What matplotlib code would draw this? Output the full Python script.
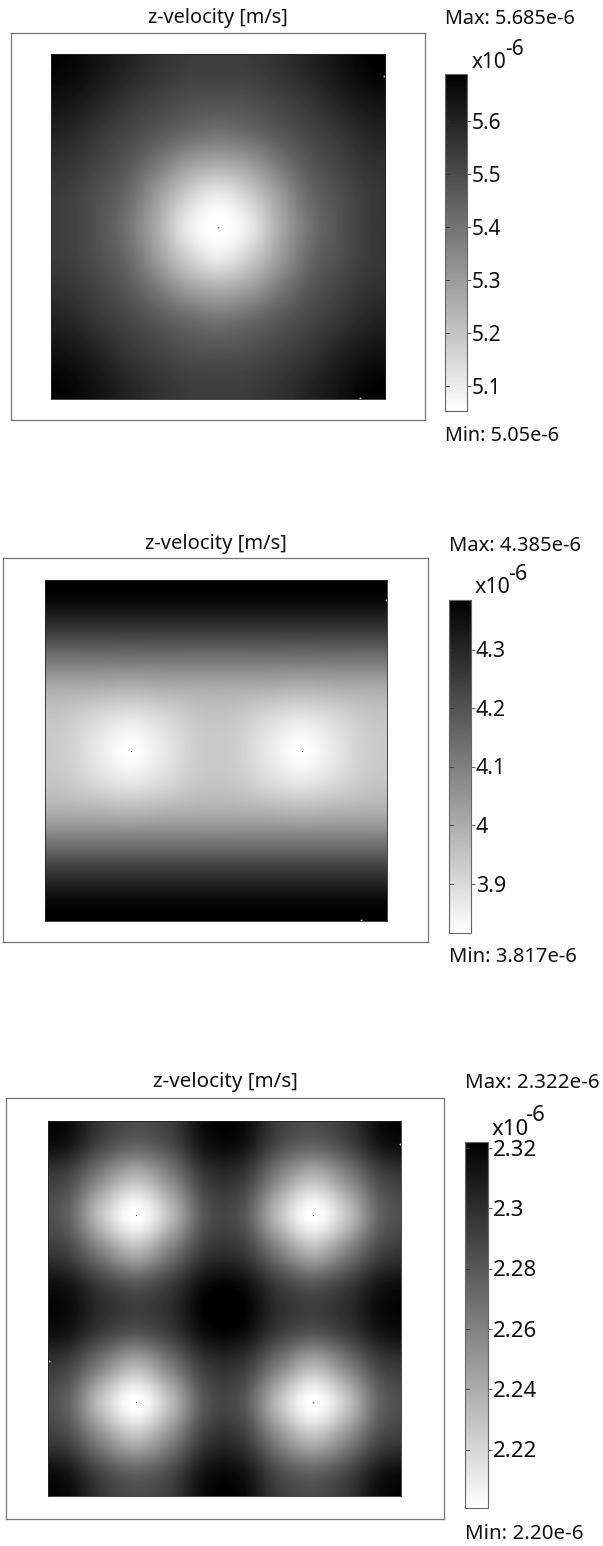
import matplotlib
matplotlib.use("Agg")
import matplotlib.pyplot as plt
from matplotlib.cm import ScalarMappable
from matplotlib.colors import Normalize

plt.rcParams['font.family'] = ['Noto Sans', 'DejaVu Sans']
W, H = 603, 1546

title = "z-velocity [m/s]"

field_1 = [
    [5.675, 5.640, 5.598, 5.561, 5.536, 5.531, 5.536, 5.561, 5.598, 5.640, 5.680],
    [5.640, 5.605, 5.555, 5.523, 5.493, 5.486, 5.493, 5.523, 5.555, 5.605, 5.640],
    [5.598, 5.555, 5.516, 5.473, 5.430, 5.405, 5.430, 5.473, 5.516, 5.555, 5.598],
    [5.561, 5.523, 5.473, 5.390, 5.300, 5.265, 5.300, 5.390, 5.473, 5.523, 5.565],
    [5.536, 5.493, 5.430, 5.300, 5.175, 5.105, 5.175, 5.300, 5.430, 5.493, 5.545],
    [5.531, 5.486, 5.405, 5.265, 5.105, 5.050, 5.105, 5.265, 5.405, 5.486, 5.545],
    [5.536, 5.493, 5.430, 5.300, 5.175, 5.105, 5.175, 5.300, 5.430, 5.493, 5.545],
    [5.561, 5.523, 5.473, 5.390, 5.300, 5.265, 5.300, 5.390, 5.473, 5.523, 5.565],
    [5.598, 5.555, 5.516, 5.473, 5.430, 5.405, 5.430, 5.473, 5.516, 5.555, 5.598],
    [5.640, 5.605, 5.555, 5.523, 5.493, 5.486, 5.493, 5.523, 5.555, 5.605, 5.640],
    [5.675, 5.640, 5.598, 5.561, 5.536, 5.531, 5.536, 5.561, 5.598, 5.640, 5.680],
]
field_2 = [
    [4.374, 4.374, 4.374, 4.374, 4.374, 4.374, 4.374, 4.374, 4.374, 4.374],
    [4.272, 4.272, 4.272, 4.272, 4.272, 4.272, 4.272, 4.272, 4.272, 4.272],
    [4.130, 4.130, 4.130, 4.130, 4.130, 4.130, 4.130, 4.130, 4.130, 4.130],
    [4.000, 3.995, 3.985, 3.995, 4.000, 4.000, 3.995, 3.985, 3.995, 4.000],
    [3.942, 3.900, 3.870, 3.900, 3.942, 3.942, 3.900, 3.870, 3.900, 3.942],
    [3.930, 3.870, 3.817, 3.870, 3.930, 3.930, 3.870, 3.817, 3.870, 3.930],
    [3.942, 3.900, 3.870, 3.900, 3.942, 3.942, 3.900, 3.870, 3.900, 3.942],
    [4.000, 3.995, 3.985, 3.995, 4.000, 4.000, 3.995, 3.985, 3.995, 4.000],
    [4.130, 4.130, 4.130, 4.130, 4.130, 4.130, 4.130, 4.130, 4.130, 4.130],
    [4.272, 4.272, 4.272, 4.272, 4.272, 4.272, 4.272, 4.272, 4.272, 4.272],
    [4.374, 4.374, 4.374, 4.374, 4.374, 4.374, 4.374, 4.374, 4.374, 4.374],
]
field_3 = [
    [2.315, 2.292, 2.280, 2.290, 2.316, 2.316, 2.290, 2.280, 2.292, 2.315],
    [2.290, 2.258, 2.235, 2.260, 2.296, 2.296, 2.260, 2.235, 2.258, 2.290],
    [2.278, 2.230, 2.200, 2.234, 2.283, 2.283, 2.234, 2.200, 2.230, 2.278],
    [2.292, 2.262, 2.238, 2.265, 2.296, 2.296, 2.265, 2.238, 2.262, 2.292],
    [2.315, 2.297, 2.287, 2.297, 2.319, 2.319, 2.297, 2.287, 2.297, 2.315],
    [2.315, 2.297, 2.287, 2.297, 2.319, 2.319, 2.297, 2.287, 2.297, 2.315],
    [2.292, 2.262, 2.238, 2.265, 2.296, 2.296, 2.265, 2.238, 2.262, 2.292],
    [2.278, 2.230, 2.200, 2.234, 2.283, 2.283, 2.234, 2.200, 2.230, 2.278],
    [2.290, 2.258, 2.235, 2.260, 2.296, 2.296, 2.260, 2.235, 2.258, 2.290],
    [2.315, 2.292, 2.280, 2.290, 2.316, 2.316, 2.290, 2.280, 2.292, 2.315],
]

ticks_1 = [5.1, 5.2, 5.3, 5.4, 5.5, 5.6]
ticks_2 = [3.9, 4.0, 4.1, 4.2, 4.3]
ticks_3 = [2.22, 2.24, 2.26, 2.28, 2.30, 2.32]
ticklabels_1 = ["5.1", "5.2", "5.3", "5.4", "5.5", "5.6"]
ticklabels_2 = ["3.9", "4", "4.1", "4.2", "4.3"]
ticklabels_3 = ["2.22", "2.24", "2.26", "2.28", "2.3", "2.32"]
max_labels = ["Max: 5.685e-6", "Max: 4.385e-6", "Max: 2.322e-6"]
min_labels = ["Min: 5.05e-6", "Min: 3.817e-6", "Min: 2.20e-6"]
ranges = [(5.053, 5.689), (3.816, 4.385), (2.2007, 2.322)]

peaks_x = [[0.5], [0.25, 0.75], [0.25, 0.75, 0.25, 0.75]]
peaks_y = [[0.5], [0.5, 0.5], [0.75, 0.75, 0.25, 0.25]]
specks_x = [[0.998, 0.925], [0.998, 0.925], [0.998, 0.003]]
specks_y = [[0.935, 0.002], [0.94, 0.002], [0.94, 0.36]]

fig = plt.figure(figsize=(W / 100, H / 100), dpi=100, facecolor='white')


def px_axes(x0, y0, x1, y1, **kw):
    return fig.add_axes([x0 / W, 1 - y1 / H, (x1 - x0) / W, (y1 - y0) / H], **kw)


def px_text(x, y, s, size, **kw):
    fig.text(x / W, 1 - (y + 2.2) / H, s, fontsize=size, color='#111111', va='center', **kw)


layouts = [
    dict(frame=(11, 33, 425, 420), img=(51, 54, 385, 399), cb=(445, 74, 467, 411),
         title=(218, 16), mx=(445, 17), mn=(445, 434), x10=(472, 60), exp=(505, 47),
         lab=472, fs=14.3, tfs=15),
    dict(frame=(3, 558, 428, 942), img=(45, 580, 387, 921), cb=(449, 600, 471, 933),
         title=(216, 542), mx=(449, 544), mn=(449, 955), x10=(475, 585), exp=(508, 572),
         lab=476, fs=14.5, tfs=15.5),
    dict(frame=(6, 1098, 444, 1519), img=(48, 1121, 401, 1496), cb=(465, 1142, 488, 1508),
         title=(225, 1080), mx=(465, 1081), mn=(465, 1532), x10=(492, 1127), exp=(525, 1113),
         lab=493, fs=14.8, tfs=16),
]
fields = [field_1, field_2, field_3]
ticks = [ticks_1, ticks_2, ticks_3]
ticklabels = [ticklabels_1, ticklabels_2, ticklabels_3]

for k, L in enumerate(layouts):
    fx = px_axes(*L['frame'])
    fx.set_xticks([])
    fx.set_yticks([])
    for s in fx.spines.values():
        s.set_color('#777777')
        s.set_linewidth(0.9)

    vmin, vmax = ranges[k]
    norm = Normalize(vmin, vmax)
    ax = px_axes(*L['img'])
    ax.imshow(fields[k], cmap='gray_r', norm=norm, interpolation='catrom',
              extent=(0, 1, 0, 1), aspect='auto', origin='lower')
    ax.scatter(peaks_x[k], peaks_y[k], s=0.5, c='#333333', linewidths=0)
    ax.scatter(specks_x[k], specks_y[k], s=2, c='#cccccc', linewidths=0)
    ax.set_xlim(0, 1)
    ax.set_ylim(0, 1)
    ax.set_xticks([])
    ax.set_yticks([])
    for s in ax.spines.values():
        s.set_color('#222222')
        s.set_linewidth(0.6)

    cax = px_axes(*L['cb'])
    cb = fig.colorbar(ScalarMappable(norm=norm, cmap='gray_r'), cax=cax)
    cb.set_ticks(ticks[k])
    cb.set_ticklabels([])
    cb.outline.set_edgecolor('#666666')
    cb.outline.set_linewidth(0.8)
    cax.tick_params(axis='y', which='major', length=3, width=0.6, color='#444444', right=True)
    cax.minorticks_off()
    for t in ticks[k]:
        cax.plot([0, 0.16], [t, t], color='#333333', lw=0.6, transform=cax.get_yaxis_transform())
    for t, lab in zip(ticks[k], ticklabels[k]):
        y = L['cb'][3] - (t - vmin) / (vmax - vmin) * (L['cb'][3] - L['cb'][1])
        px_text(L['lab'], y, lab, L['tfs'], ha='left')

    px_text(*L['title'], title, L['fs'], ha='center')
    px_text(*L['mx'], max_labels[k], L['fs'], ha='left')
    px_text(*L['mn'], min_labels[k], L['fs'], ha='left')
    px_text(*L['x10'], "x10", L['tfs'], ha='left')
    px_text(*L['exp'], "-6", L['tfs'], ha='left')

fig.savefig("out.png", dpi=100, facecolor='white')
